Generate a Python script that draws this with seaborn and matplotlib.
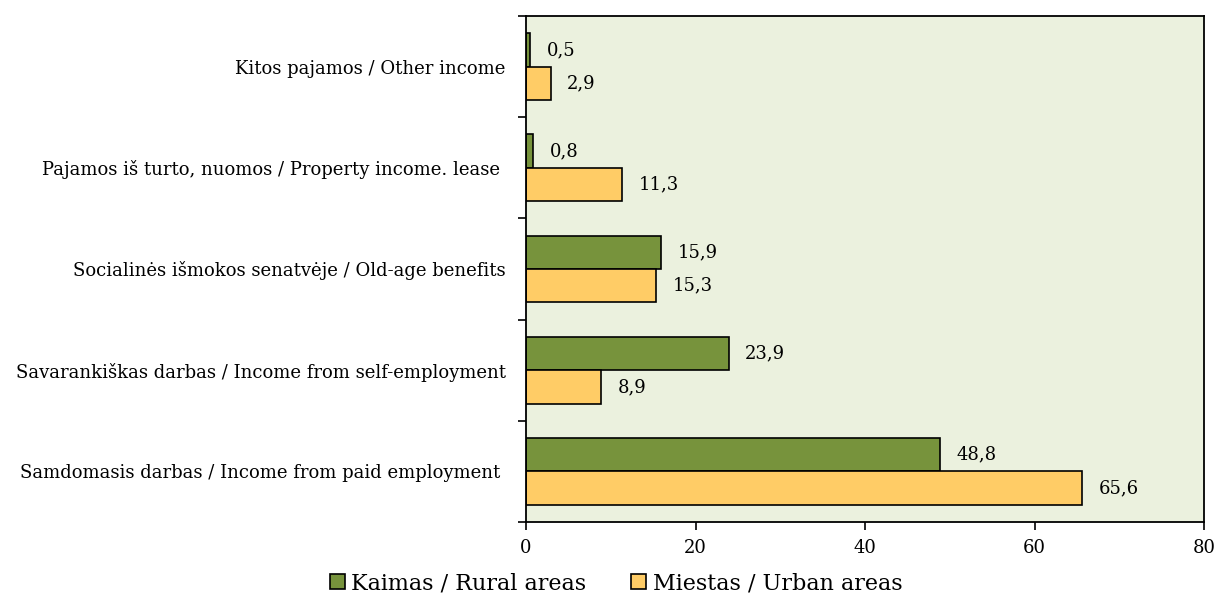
import seaborn as sns
import pandas as pd
import matplotlib.pyplot as plt
from matplotlib.patches import Patch
from matplotlib.ticker import FixedLocator

# Income sources (top to bottom as shown)
categories = [
    'Kitos pajamos / Other income',
    'Pajamos iš turto, nuomos / Property income. lease ',
    'Socialinės išmokos senatvėje / Old-age benefits',
    'Savarankiškas darbas / Income from self-employment',
    'Samdomasis darbas / Income from paid employment ',
]
rural = [0.5, 0.8, 15.9, 23.9, 48.8]
urban = [2.9, 11.3, 15.3, 8.9, 65.6]
series_names = ['Kaimas / Rural areas', 'Miestas / Urban areas']
x_ticks = [0, 20, 40, 60, 80]

green = '#77933C'
orange = '#FFCC66'

df = pd.DataFrame({
    'category': categories * 2,
    'value': rural + urban,
    'area': [series_names[0]] * len(categories) + [series_names[1]] * len(categories),
})

sns.set_style('white')
plt.rcParams['font.family'] = ['DejaVu Serif']
plt.rcParams['text.color'] = 'black'
plt.rcParams['xtick.color'] = 'black'
plt.rcParams['ytick.color'] = 'black'

fig = plt.figure(figsize=(12.16, 5.99), dpi=100)
ax = fig.add_axes([526 / 1216, 1 - 522 / 599, (1204 - 526) / 1216, (522 - 16) / 599])

sns.barplot(data=df, y='category', x='value', hue='area', orient='h',
            palette=[green, orange], saturation=1, width=0.66, edgecolor='black',
            linewidth=1.2, ax=ax, legend=False)

ax.set_facecolor('#EBF1DE')
for c in ax.containers:
    labels = [f'{w:.1f}'.replace('.', ',') for w in c.datavalues]
    ax.bar_label(c, labels=labels, padding=12, fontsize=13, color='black')

ax.set_xlim(0, 80)
ax.set_xticks(x_ticks)
ax.set_xlabel('')
ax.set_ylabel('')
ax.set_ylim(len(categories) - 0.5, -0.5)
ax.yaxis.set_minor_locator(FixedLocator([i - 0.5 for i in range(len(categories) + 1)]))
ax.tick_params(axis='y', which='major', length=0, pad=14.5, labelsize=13)
ax.tick_params(axis='y', which='minor', length=6, width=1.2, color='black', left=True)
ax.tick_params(axis='x', length=6, width=1.2, color='black', bottom=True, labelsize=13, pad=6)
for s in ax.spines.values():
    s.set_color('black')
    s.set_linewidth(1.3)

handles = [Patch(facecolor=green, edgecolor='black', linewidth=1.2),
           Patch(facecolor=orange, edgecolor='black', linewidth=1.2)]
fig.legend(handles, series_names, loc='center', bbox_to_anchor=(616 / 1216, 1 - 583 / 599),
           ncol=2, frameon=False, fontsize=16, handlelength=0.68, handleheight=0.68,
           handletextpad=0.3, columnspacing=2.0)

fig.savefig('out.png', dpi=100)
